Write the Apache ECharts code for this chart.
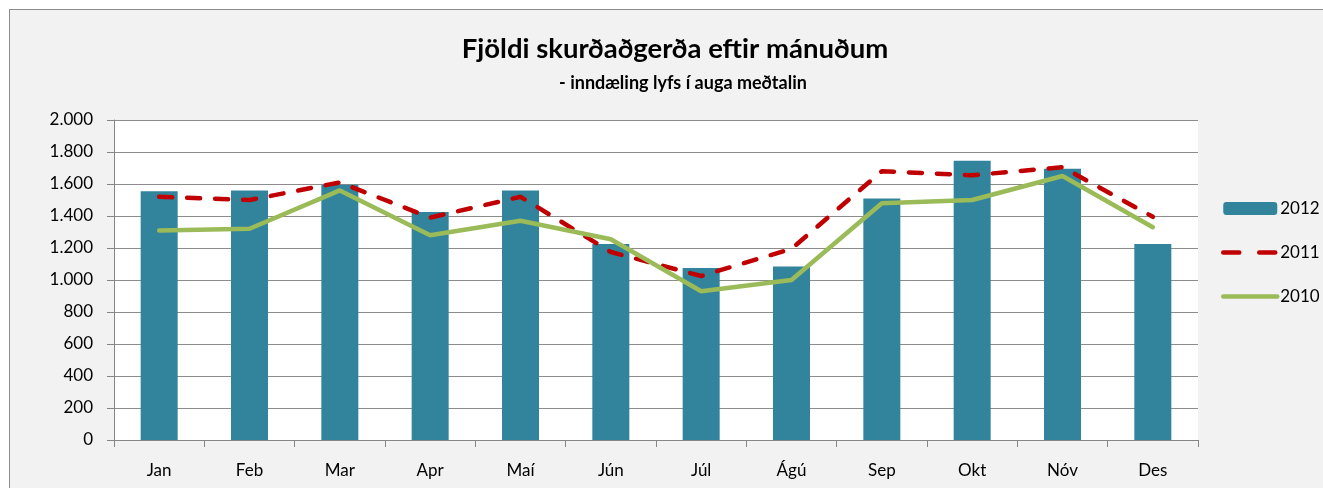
<!DOCTYPE html>
<html>
<head>
<meta charset="utf-8">
<script src="https://cdn.jsdelivr.net/npm/echarts@6/dist/echarts.min.js"></script>
<style>
html,body{margin:0;padding:0;background:#fff;overflow:hidden;}
#frame{position:absolute;left:9px;top:9px;width:1400px;height:600px;border:1px solid #8c8c8c;background:#f2f2f2;}
#chart{position:absolute;left:0;top:0;width:1323px;height:488px;}
</style>
</head>
<body>
<div id="frame"></div>
<div id="chart"></div>
<script>
const months = ['Jan','Feb','Mar','Apr','Maí','Jún','Júl','Ágú','Sep','Okt','Nóv','Des'];
const y2012 = [1555,1560,1595,1425,1560,1225,1075,1085,1510,1745,1695,1225];
const y2011 = [1520,1500,1610,1390,1520,1175,1025,1195,1680,1655,1705,1395];
const y2010 = [1310,1320,1560,1280,1370,1255,930,1000,1480,1500,1650,1330];
const yTicks = {min:0, max:2000, interval:200};
const titleText = 'Fjöldi skurðaðgerða eftir mánuðum';
const subText = '- inndæling lyfs í auga meðtalin';

const FONT = 'Lato, "Open Sans", sans-serif';
const chart = echarts.init(document.getElementById('chart'), null, {renderer:'canvas'});
chart.setOption({
  animation:false,
  backgroundColor:'transparent',
  textStyle:{fontFamily:FONT},
  title:[
    {text:titleText, left:670, top:30, textAlign:'center',
     textStyle:{fontFamily:FONT, fontSize:27.5, fontWeight:'bold', color:'#000'}},
    {text:subText, left:678, top:69, textAlign:'center',
     textStyle:{fontFamily:FONT, fontSize:18, fontWeight:'bold', color:'#000'}}
  ],
  legend:{
    orient:'vertical', left:1216, top:195, itemWidth:54, itemHeight:13, itemGap:27,
    textStyle:{fontFamily:FONT, fontSize:17, color:'#000', padding:[0,0,0,-2]},
    data:[
      {name:'2012'},
      {name:'2011', itemStyle:{opacity:0},
       lineStyle:{color:'#c00000', width:4.5, type:[16,20], cap:'round'}},
      {name:'2010', itemStyle:{opacity:0},
       lineStyle:{color:'#9bbb59', width:4.5, cap:'round'}}
    ]
  },
  grid:{left:114, right:125, top:120, bottom:48, show:true, backgroundColor:'#fff', borderWidth:0},
  xAxis:{
    type:'category', data:months,
    axisLine:{lineStyle:{color:'#868686', width:1}},
    axisTick:{show:true, length:7, lineStyle:{color:'#868686'}},
    axisLabel:{color:'#000', fontSize:17, margin:22, fontFamily:FONT}
  },
  yAxis:{
    type:'value', min:yTicks.min, max:yTicks.max, interval:yTicks.interval,
    axisLine:{show:true, lineStyle:{color:'#868686', width:1}},
    axisTick:{show:true, length:7, lineStyle:{color:'#868686'}},
    splitLine:{lineStyle:{color:'#8c8c8c', width:1}},
    axisLabel:{color:'#000', fontSize:17, margin:21, fontFamily:FONT,
      formatter:v => v.toLocaleString('de-DE')}
  },
  series:[
    {name:'2012', type:'bar', data:y2012, barWidth:37,
     itemStyle:{color:'#31849b'}},
    {name:'2011', type:'line', data:y2011, symbol:'none',
     lineStyle:{color:'#c00000', width:4.5, type:[13,15], cap:'round'},
     itemStyle:{color:'#c00000'}},
    {name:'2010', type:'line', data:y2010, symbol:'none',
     lineStyle:{color:'#9bbb59', width:4.5, cap:'round'},
     itemStyle:{color:'#9bbb59'}}
  ]
});
</script>
</body>
</html>
